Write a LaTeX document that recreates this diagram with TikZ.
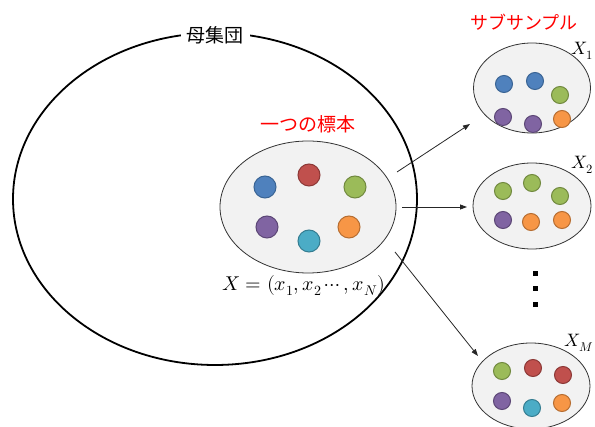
\documentclass[tikz,border=0pt]{standalone}
\usepackage{fontspec}
\usepackage{unicode-math}
\newfontfamily\cjk{Noto Sans CJK JP}
\usetikzlibrary{shapes.geometric,arrows.meta}
\definecolor{cblue}{HTML}{4F81BD}\definecolor{cblueD}{HTML}{3A6494}
\definecolor{cred}{HTML}{C0504D}\definecolor{credD}{HTML}{8C3836}
\definecolor{cgreen}{HTML}{9BBB59}\definecolor{cgreenD}{HTML}{71893F}
\definecolor{cpurple}{HTML}{8064A2}\definecolor{cpurpleD}{HTML}{5C4776}
\definecolor{ccyan}{HTML}{4BACC6}\definecolor{ccyanD}{HTML}{357D91}
\definecolor{corange}{HTML}{F79646}\definecolor{corangeD}{HTML}{B66D31}
\definecolor{sfill}{HTML}{F2F2F2}
\definecolor{jred}{HTML}{FF0000}
\tikzset{
  popell/.style={ellipse, draw=black, line width=1.8pt, minimum width=404pt, minimum height=332pt, inner sep=0pt},
  sampell/.style={ellipse, draw=black!80, fill=sfill, line width=0.8pt, inner sep=0pt},
  dotc/.style={circle, inner sep=0pt, line width=1pt, minimum size=#1},
  bigc/.style={dotc=22pt},
  smallc/.style={dotc=17pt},
  cB/.style={fill=cblue, draw=cblueD},
  cR/.style={fill=cred, draw=credD},
  cG/.style={fill=cgreen, draw=cgreenD},
  cP/.style={fill=cpurple, draw=cpurpleD},
  cC/.style={fill=ccyan, draw=ccyanD},
  cO/.style={fill=corange, draw=corangeD},
  jlabel/.style={font=\cjk\fontsize{19}{22}\selectfont, inner sep=1pt},
  arr/.style={-{Triangle[length=7pt,width=5pt]}, line width=0.8pt, draw=black!85},
  vdot/.style={fill=black, inner sep=0pt, minimum size=5pt, rectangle},
  xlab/.style={font=\fontsize{18}{21}\selectfont, inner sep=0pt}
}
\begin{document}
\begin{tikzpicture}[x=1pt,y=-1pt]
\useasboundingbox (0,0) rectangle (595,427);
% population
\node[popell] (pop) at (215,199) {};
\node[jlabel, fill=white, inner xsep=6pt] (poplab) at (215,35) {母集団};
% sample
\node[jlabel, text=jred] (samplab) at (308,124) {一つの標本};
\node[sampell, minimum width=176pt, minimum height=132pt] (samp) at (308,207) {};
\node[bigc, cB] (s1) at (265,187) {};
\node[bigc, cR] (s2) at (309,175) {};
\node[bigc, cG] (s3) at (355,187) {};
\node[bigc, cP] (s4) at (267,227) {};
\node[bigc, cC] (s5) at (309,241) {};
\node[bigc, cO] (s6) at (349,227) {};
\node[font=\fontsize{20}{24}\selectfont, inner sep=0pt] (xlab) at (304,286) {$X=(x_1,x_2\cdots,x_N)$};
% subsample title
\node[jlabel, text=jred, font=\cjk\fontsize{18}{21}\selectfont] (sublab) at (524,22) {サブサンプル};
% sub 1
\node[sampell, minimum width=117pt, minimum height=90pt] (sub1) at (532,88) {};
\node[smallc, cB] (a1) at (504,84) {};
\node[smallc, cB] (a2) at (535,81) {};
\node[smallc, cG] (a3) at (560,95) {};
\node[smallc, cP] (a4) at (503,117) {};
\node[smallc, cP] (a5) at (533,124) {};
\node[smallc, cO] (a6) at (562,119) {};
\node[xlab] (x1) at (582,51) {$X_1$};
% sub 2
\node[sampell, minimum width=118pt, minimum height=86pt] (sub2) at (532,206) {};
\node[smallc, cG] (b1) at (503,191) {};
\node[smallc, cG] (b2) at (532,183) {};
\node[smallc, cG] (b3) at (560,196) {};
\node[smallc, cP] (b4) at (503,220) {};
\node[smallc, cO] (b5) at (531,222) {};
\node[smallc, cO] (b6) at (562,220) {};
\node[xlab] (x2) at (582,165) {$X_2$};
% dots
\node[vdot] (d1) at (535,274) {};
\node[vdot] (d2) at (535,289) {};
\node[vdot] (d3) at (535,305) {};
% sub M
\node[sampell, minimum width=118pt, minimum height=86pt] (subM) at (531,386) {};
\node[smallc, cG] (c1) at (502,371) {};
\node[smallc, cR] (c2) at (533,368) {};
\node[smallc, cR] (c3) at (563,375) {};
\node[smallc, cP] (c4) at (502,401) {};
\node[smallc, cC] (c5) at (532,408) {};
\node[smallc, cO] (c6) at (562,403) {};
\node[xlab, anchor=east] (xM) at (594,343) {$X_M$};
% arrows
\draw[arr] ([shift={(89,-35)}]samp.center) -- ([shift={(-62,36)}]sub1.center);
\draw[arr] ([shift={(94,0)}]samp.center) -- ([shift={(-65,1)}]sub2.center);
\draw[arr] ([shift={(87,45)}]samp.center) -- ([shift={(-53,-30)}]subM.center);
\end{tikzpicture}
\end{document}
